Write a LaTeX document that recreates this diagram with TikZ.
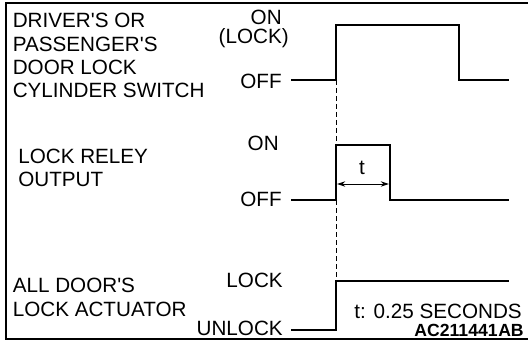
\documentclass[tikz,border=0pt]{standalone}
\usepackage{fontspec}
\setmainfont{Liberation Sans}
\usetikzlibrary{arrows.meta, positioning}
\tikzset{
  sig/.style={line width=1.5pt, line join=miter},
  frame/.style={line width=1.5pt},
  lbl/.style={font=\fontsize{15.5}{17.5}\selectfont, inner sep=0pt},
  lvl/.style={lbl, anchor=base east},
  blk/.style={lbl, anchor=north west, align=left}
}
\newcommand{\apo}{\textquotesingle}

\begin{document}
\begin{tikzpicture}[x=0.75pt, y=-0.75pt]
      \useasboundingbox (0,0) rectangle (528,349);

      % frame (open on the right)
      \draw[frame] (528,3.5) -- (6,3.5) -- (6,339) -- (528,339);

      % signal names
      \node[blk] (sw)  at (12.5,13.3) {DRIVER\apo S OR\\PASSENGER\apo S\\DOOR LOCK\\CYLINDER SWITCH};
      \node[blk] (rel) at (18,148.5) {LOCK RELEY\\OUTPUT};
      \node[blk] (act) at (12.5,278.3) {ALL DOOR\apo S\\LOCK ACTUATOR};

      % levels
      \node[lvl] (swon)   at (282,24.3){ON};
      \node[lvl] (swlock) at (289,44)  {(LOCK)};
      \node[lvl] (swoff)  at (282,89)  {OFF};
      \node[lvl] (relon)  at (279,151) {ON};
      \node[lvl] (reloff) at (282,206) {OFF};
      \node[lvl] (actlk)  at (283,287) {LOCK};
      \node[lvl] (actul)  at (283,335) {UNLOCK};

      % switch
      \coordinate (s0) at (291,80);
      \coordinate (s1) at (336,80);
      \coordinate (s2) at (459,25);
      \draw[sig] (s0) -- (s1) |- (s2) |- (509,80);

      % relay
      \coordinate (r0) at (291,200);
      \coordinate (r1) at (336,200);
      \coordinate (r2) at (390,145);
      \draw[sig] (r0) -- (r1) |- (r2) |- (509,200);

      % actuator
      \coordinate (a0) at (291,330);
      \coordinate (a1) at (336,330);
      \coordinate (a2) at (509,281);
      \draw[sig] (a0) -- (a1) |- (a2);

      % start of lock
      \draw[line width=0.7pt, dash pattern=on 3.5pt off 2.5pt] (s1) -- (336,281);

      % pulse width
      \draw[{Stealth[length=6pt,width=4pt]}-{Stealth[length=6pt,width=4pt]}, line width=0.7pt]
            (337.2,184) -- (388.8,184);
      \node[lbl, anchor=base] (tt) at (362,175) {t};

      \node[lvl] (note) at (522,318) {t: 0.25 SECONDS};
      \node[lbl, anchor=base east, font=\fontsize{13.2}{15}\selectfont\bfseries] (code) at (524,336.5) {AC211441\kern0.5ptAB};
    \end{tikzpicture}
\end{document}
